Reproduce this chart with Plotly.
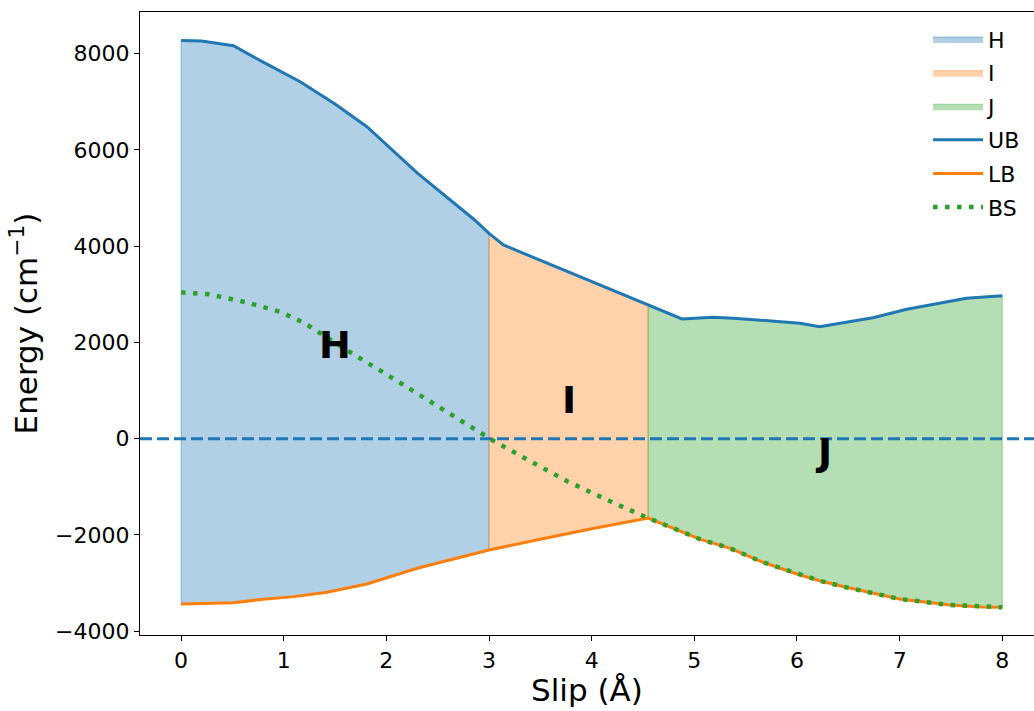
import plotly.graph_objects as go

# ---- data ----
ub_x = [0.0, 0.2, 0.51, 0.8, 1.16, 1.5, 1.81, 2.3, 2.86, 3.0, 3.14, 3.6, 4.1, 4.55, 4.88, 5.18, 5.38, 5.84, 6.03, 6.22, 6.5, 6.74, 7.07, 7.39, 7.65, 8.0]
ub_y = [8270, 8258, 8162, 7820, 7414, 6950, 6480, 5520, 4542, 4266, 4023, 3614, 3169, 2777, 2486, 2521, 2500, 2430, 2397, 2326, 2420, 2513, 2687, 2812, 2916, 2970]

lb_x = [0.0, 0.51, 0.8, 1.1, 1.42, 1.81, 2.3, 3.0, 3.5, 4.0, 4.55, 5.06, 5.35, 5.67, 6.0, 6.22, 6.48, 7.0, 7.49, 7.8, 8.0]
lb_y = [-3433, -3406, -3336, -3280, -3190, -3018, -2692, -2311, -2090, -1870, -1650, -2090, -2277, -2567, -2810, -2950, -3087, -3329, -3454, -3495, -3502]

bs_x = [0.0, 0.27, 0.62, 0.96, 1.19, 1.38, 1.69, 2.0, 2.31, 2.62, 2.93, 3.03, 3.35, 3.77, 4.21, 4.55, 5.06, 5.35, 5.67, 6.0, 6.22, 6.48, 7.0, 7.49, 7.8, 8.0]
bs_y = [3040, 3000, 2840, 2638, 2417, 2154, 1738, 1337, 928, 527, 125, -27, -407, -893, -1329, -1650, -2090, -2277, -2567, -2810, -2950, -3087, -3329, -3454, -3495, -3502]

regions = ["H", "I", "J"]
region_bounds = [(0.0, 3.0), (3.0, 4.55), (4.55, 8.0)]
region_fill = ["rgba(31,119,180,0.35)", "rgba(255,127,14,0.35)", "rgba(44,160,44,0.35)"]
label_pos = [(1.5, 1946), (3.78, 800), (6.26, -275)]

x_ticks = [0, 1, 2, 3, 4, 5, 6, 7, 8]
y_ticks = [-4000, -2000, 0, 2000, 4000, 6000, 8000]

FONT = "DejaVu Sans"

fig = go.Figure()

for name, (a, b), col in zip(regions, region_bounds, region_fill):
    ux = [x for x in ub_x if a <= x <= b]
    uy = [y for x, y in zip(ub_x, ub_y) if a <= x <= b]
    lx = [x for x in lb_x if a <= x <= b]
    ly = [y for x, y in zip(lb_x, lb_y) if a <= x <= b]
    px = ux + lx[::-1] + [ux[0]]
    py = uy + ly[::-1] + [uy[0]]
    fig.add_trace(go.Scatter(x=px, y=py, mode="lines", fill="toself",
                             fillcolor=col, line=dict(color=col, width=1.2),
                             name=name, legendgroup=name, hoverinfo="skip"))

fig.add_trace(go.Scatter(x=ub_x, y=ub_y, mode="lines", name="UB", legendgroup="UB",
                         line=dict(color="#1f77b4", width=3)))
fig.add_trace(go.Scatter(x=lb_x, y=lb_y, mode="lines", name="LB", legendgroup="LB",
                         line=dict(color="#ff7f0e", width=3)))
fig.add_trace(go.Scatter(x=bs_x, y=bs_y, mode="lines", name="BS", legendgroup="BS",
                         line=dict(color="#2ca02c", width=4.5, dash="4.5px,7.5px")))

fig.add_hline(y=0, line=dict(color="#1f77b4", width=3, dash="12px,5px"))

for name, (lx_, ly_) in zip(regions, label_pos):
    fig.add_annotation(x=lx_, y=ly_, text="<b>%s</b>" % name, showarrow=False,
                       font=dict(family=FONT, size=38, color="black"))

fig.update_layout(
    width=1034, height=711,
    margin=dict(l=140, r=0, t=12, b=76),
    paper_bgcolor="white", plot_bgcolor="white",
    font=dict(family=FONT, size=22, color="black"),
    showlegend=True,
    legend=dict(x=0.8815, y=0.99, xanchor="left", yanchor="top",
                bgcolor="rgba(0,0,0,0)", font=dict(family=FONT, size=22),
                itemwidth=50, tracegroupgap=2),
)
fig.update_xaxes(range=[-0.4, 8.309], tickvals=x_ticks, ticks="outside", ticklen=5,
                 tickwidth=1.2, tickcolor="black", showline=True, linecolor="black",
                 linewidth=1.2, mirror=True, showgrid=False, zeroline=False,
                 title=dict(text="Slip (Å)", font=dict(family=FONT, size=31), standoff=6),
                 tickfont=dict(family=FONT, size=22))
fig.update_yaxes(range=[-4077, 8862], tickvals=y_ticks,
                 ticktext=[("−%d" % -v) if v < 0 else str(v) for v in y_ticks],
                 ticks="outside", ticklen=5, tickwidth=1.2, tickcolor="black",
                 showline=True, linecolor="black", linewidth=1.2, mirror=False,
                 showgrid=False, zeroline=False,
                 title=dict(text="Energy (cm<sup>−1</sup>)", font=dict(family=FONT, size=31), standoff=8),
                 tickfont=dict(family=FONT, size=22))

fig.write_html("out.html")
